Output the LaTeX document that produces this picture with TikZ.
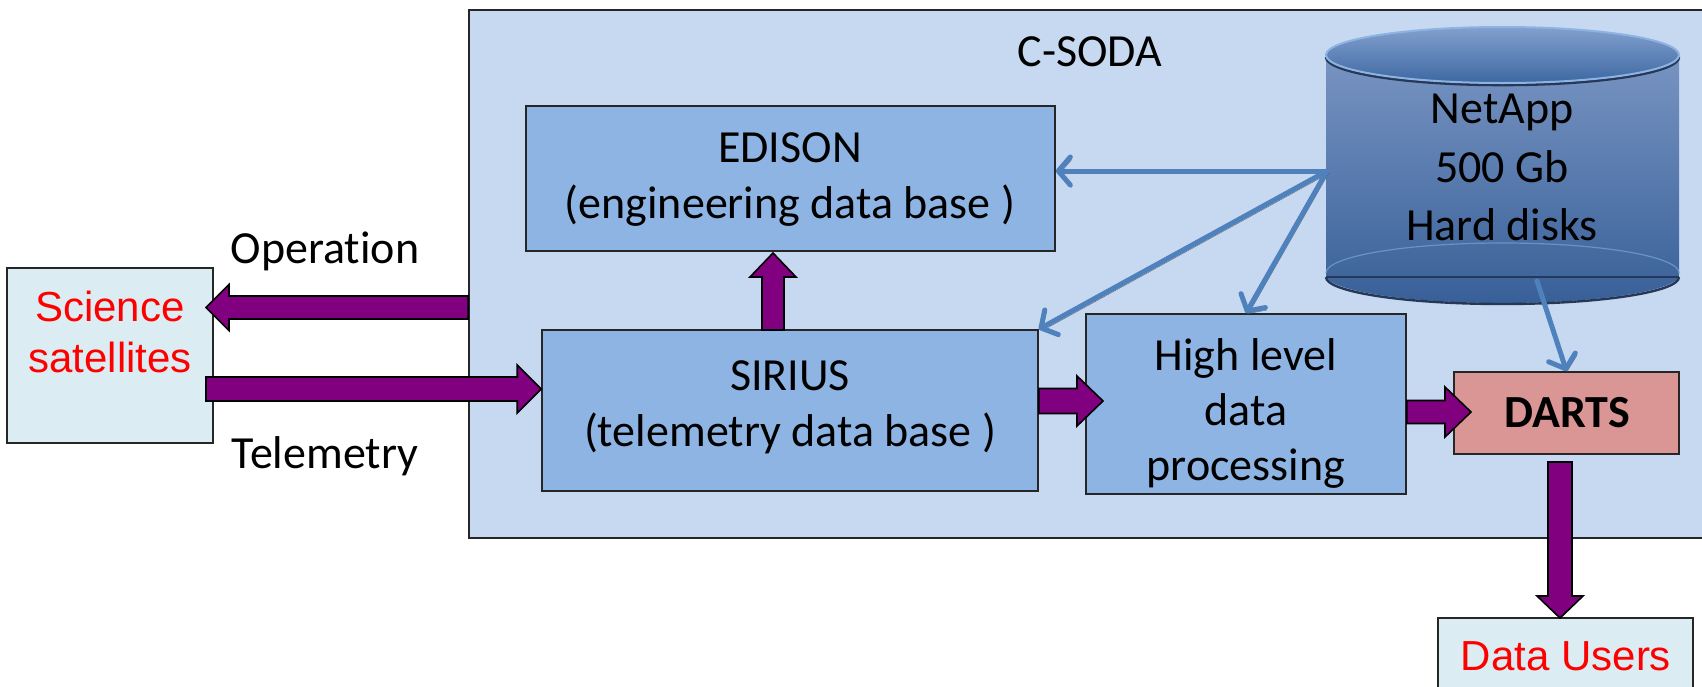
\documentclass[tikz,border=0pt]{standalone}
\usepackage{fontspec}
\setmainfont{Carlito}[Ligatures=NoCommon]
\newfontfamily\arialfam{Liberation Sans}
\usetikzlibrary{calc,fit,arrows.meta}

\definecolor{sodafill}{RGB}{198,217,241}
\definecolor{dbfill}{RGB}{142,180,227}
\definecolor{dartsfill}{RGB}{217,150,148}
\definecolor{extfill}{RGB}{219,237,243}
\definecolor{flowpurple}{RGB}{128,0,128}
\definecolor{linkblue}{RGB}{79,129,189}
\definecolor{cyltop}{RGB}{120,148,194}
\definecolor{cylbot}{RGB}{56,96,152}
\definecolor{capTop}{RGB}{130,160,206}
\definecolor{capBot}{RGB}{62,104,162}
\definecolor{cylrim}{RGB}{141,179,226}
\definecolor{cyldark}{RGB}{38,56,88}

\newcommand\bodyfont{\fontsize{46pt}{56pt}\selectfont}
\newcommand\extfont{\arialfam\fontsize{42pt}{50pt}\selectfont}

% broad block arrow: tail, tip, body half-width, head half-width, head length
\newcommand\fatarrow[5]{%
  \coordinate (fa-h) at ($(#2)!#5!(#1)$);
  \path[fatflow] ($(#1)!#3!90:(#2)$) -- ($(fa-h)!#3!90:(#2)$) -- ($(fa-h)!#4!90:(#2)$) -- (#2)
    -- ($(fa-h)!#4!-90:(#2)$) -- ($(fa-h)!#3!-90:(#2)$) -- ($(#1)!#3!-90:(#2)$) -- cycle;
}

\tikzset{
  boxline/.style={draw=black!85, line width=1.6pt},
  dbbox/.style={boxline, fill=dbfill, inner sep=0pt},
  extbox/.style={boxline, fill=extfill, inner sep=0pt},
  txt/.style={anchor=base, inner sep=0pt, font=\bodyfont},
  redtxt/.style={anchor=base, inner sep=0pt, font=\extfont, text=red},
  fatflow/.style={fill=flowpurple, draw=black, line width=1.6pt, line join=miter},
  link/.style={draw=linkblue, line width=5pt, line cap=round,
    -{Straight Barb[length=12pt,width=28pt,round]},
    preaction={draw=black!70, draw opacity=0.85, transform canvas={shift={(1.5pt,-2.5pt)}}}},
}

\begin{document}
\begin{tikzpicture}[x=1pt,y=-1pt]
\useasboundingbox (0,0) rectangle (1702,686);

% C-SODA enclosure
\node[boxline, fill=sodafill, inner sep=0pt, fit={(469,10) (1706,538)}] (csoda) {};
\node[txt] (csoda-title) at (1090,66) {C-SODA};

% NetApp storage cylinder
\path[top color=cyltop, bottom color=cylbot]
  (1326,55) -- (1326,275) arc[start angle=180, end angle=360, x radius=176.5pt, y radius=28pt]
  -- (1679,55) -- cycle;
\draw[cylrim!60!cylbot, line width=1.2pt]
  (1326,273) arc[start angle=180, end angle=0, x radius=176.5pt, y radius=30pt];
\draw[cyldark, line width=2.4pt]
  (1326,277) arc[start angle=180, end angle=360, x radius=176.5pt, y radius=27pt];
\draw[cyldark, line width=2.2pt] (1326,277) -- (1679,277);
\draw[cyldark, line width=2.6pt]
  (1326,57) arc[start angle=180, end angle=360, x radius=176.5pt, y radius=28pt];
\path[draw=cylrim, line width=2pt, top color=capTop, bottom color=capBot]
  (1502.5,55) ellipse[x radius=176.5pt, y radius=28pt];
\node[txt] (nas-1) at (1502,123) {NetApp};
\node[txt] (nas-2) at (1502,182) {500 Gb};
\node[txt] (nas-3) at (1502,240) {Hard disks};

% database and processing blocks
\node[dbbox, fit={(526,106) (1055,251)}] (edison) {};
\node[txt] (edison-1) at (790,162) {EDISON};
\node[txt] (edison-2) at (790,218) {(engineering data base )};

\node[dbbox, fit={(542,330) (1038,491)}] (sirius) {};
\node[txt] (sirius-1) at (790,390) {SIRIUS};
\node[txt] (sirius-2) at (790,446) {(telemetry data base )};

\node[dbbox, fit={(1086,314) (1406,494)}] (hlp) {};
\node[txt] (hlp-1) at (1246,370) {High level};
\node[txt] (hlp-2) at (1246,425) {data};
\node[txt] (hlp-3) at (1246,480) {processing};

\node[boxline, fill=dartsfill, inner sep=0pt, fit={(1454,372) (1679,454)}] (darts) {};
\node[txt, font=\bodyfont\bfseries] (darts-t) at (1567,427) {DARTS};

% outside parties
\node[extbox, fit={(7,268) (213,443)}] (sat) {};
\node[redtxt] (sat-1) at (110,321) {Science};
\node[redtxt] (sat-2) at (110,372) {satellites};

\node[extbox, fit={(1438,618) (1693,720)}] (users) {};
\node[redtxt] (users-t) at (1566,670) {Data Users};

% link labels
\node[txt] (op-label) at (325,263) {Operation};
\node[txt] (tel-label) at (325,468) {Telemetry};

% storage links
\coordinate (nas-port) at (1327,171);
\coordinate (nas-foot) at (1537,281);
\draw[link] (nas-port) -- (edison.east |- nas-port);
\draw[link] (nas-port) -- (sirius.north east);
\draw[link] (nas-port) -- (hlp.north);
\draw[link] (nas-foot) -- (darts.north);

% data flow arrows
\coordinate (op-tail) at (csoda.west |- 0,307.5);
\coordinate (op-tip) at (206,307.5);
\coordinate (tel-tail) at (206,389);
\coordinate (tel-tip) at (sirius.west |- 0,389);
\coordinate (up-tail) at (773,330);
\coordinate (up-tip) at (773,253);
\coordinate (sh-tail) at (sirius.east |- 0,401);
\coordinate (sh-tip) at (1103,401);
\coordinate (hd-tail) at (hlp.east |- 0,412);
\coordinate (hd-tip) at (1471,412);
\coordinate (du-tail) at (1560,462);
\coordinate (du-tip) at (1560,618);

\fatarrow{op-tail}{op-tip}{11.5pt}{23pt}{23pt}
\fatarrow{tel-tail}{tel-tip}{12pt}{24pt}{24pt}
\fatarrow{up-tail}{up-tip}{11pt}{23pt}{24pt}
\fatarrow{sh-tail}{sh-tip}{12.5pt}{25pt}{26pt}
\fatarrow{hd-tail}{hd-tip}{11.5pt}{25pt}{26pt}
\fatarrow{du-tail}{du-tip}{12pt}{23pt}{22pt}
\end{tikzpicture}
\end{document}
